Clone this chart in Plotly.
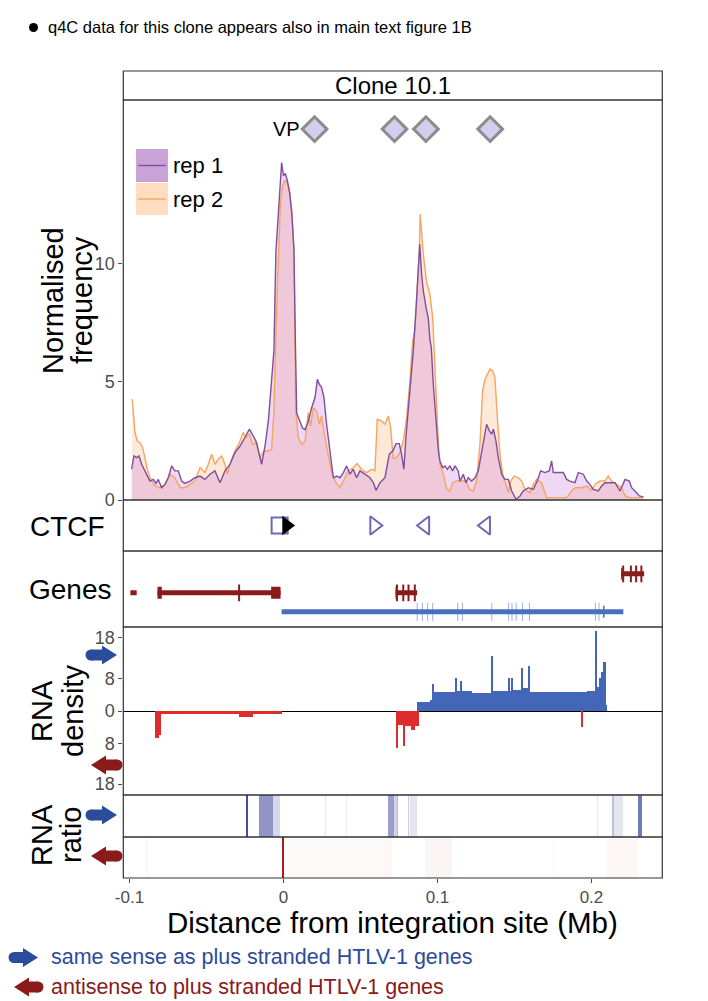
import plotly.graph_objects as go

# page is photographed with the default 8px body margin, so the figure is 8px smaller
OFF = 8
W, H = 708 - OFF, 1001 - OFF

# ---- q4C normalised frequency, two replicates ----
rep1_x = [-0.0986, -0.0971, -0.0953, -0.0938, -0.0921, -0.0906, -0.0889, -0.0867, -0.0845, -0.0828,
          -0.0813, -0.0791, -0.0769, -0.0748, -0.0726, -0.0705, -0.0683, -0.0661, -0.0640, -0.0607,
          -0.0575, -0.0542, -0.0510, -0.0477, -0.0445, -0.0412, -0.0380, -0.0347, -0.0315, -0.0282,
          -0.0250, -0.0222, -0.0196, -0.0174, -0.0142, -0.0120, -0.0098, -0.0077, -0.0062, -0.0049,
          -0.0036, -0.0025, -0.0012, 0.0000, 0.0012, 0.0025, 0.0040, 0.0055, 0.0068, 0.0078,
          0.0086, 0.0107, 0.0124, 0.0140, 0.0161, 0.0183, 0.0205, 0.0220, 0.0233, 0.0248,
          0.0263, 0.0280, 0.0302, 0.0324, 0.0345, 0.0367, 0.0389, 0.0410, 0.0432, 0.0453,
          0.0475, 0.0497, 0.0529, 0.0562, 0.0584, 0.0601, 0.0627, 0.0659, 0.0687, 0.0713,
          0.0731, 0.0752, 0.0767, 0.0782, 0.0795, 0.0811, 0.0826, 0.0843, 0.0860, 0.0876,
          0.0885, 0.0897, 0.0908, 0.0926, 0.0940, 0.0951, 0.0960, 0.0973, 0.0990, 0.1006,
          0.1016, 0.1034, 0.1049, 0.1064, 0.1081, 0.1098, 0.1114, 0.1135, 0.1146, 0.1168,
          0.1185, 0.1200, 0.1222, 0.1244, 0.1265, 0.1287, 0.1308, 0.1319, 0.1337, 0.1352,
          0.1363, 0.1380, 0.1395, 0.1417, 0.1438, 0.1460, 0.1482, 0.1510, 0.1536, 0.1557,
          0.1590, 0.1622, 0.1648, 0.1670, 0.1698, 0.1726, 0.1741, 0.1752, 0.1785, 0.1817,
          0.1839, 0.1860, 0.1893, 0.1914, 0.1947, 0.1969, 0.1990, 0.2012, 0.2044, 0.2066,
          0.2088, 0.2120, 0.2153, 0.2185, 0.2218, 0.2246, 0.2261, 0.2282, 0.2311, 0.2337]
rep1_y = [1.30, 1.86, 1.79, 1.86, 1.51, 1.30, 1.09, 0.80, 0.87, 0.70,
          0.87, 0.52, 0.66, 0.94, 1.44, 1.23, 1.23, 0.80, 0.70, 0.80,
          0.94, 1.01, 0.87, 1.09, 1.23, 0.73, 1.23, 1.51, 2.00, 2.28,
          2.64, 2.99, 2.71, 2.42, 1.51, 2.28, 3.34, 4.89, 6.30, 10.5,
          11.9, 13.0, 14.26, 13.7, 13.8, 13.5, 13.0, 12.0, 10.6, 6.5,
          3.67, 3.32, 3.04, 2.97, 3.32, 3.90, 4.33, 5.10, 4.89, 4.75,
          4.33, 3.20, 2.07, 0.94, 1.01, 0.94, 1.16, 1.44, 1.09, 1.30,
          0.94, 1.23, 1.09, 0.94, 0.73, 0.41, 0.73, 0.94, 1.93, 2.10,
          2.38, 2.38, 1.93, 1.30, 2.64, 3.76, 5.03, 6.30, 7.99, 9.82,
          10.8, 9.54, 8.84, 8.13, 7.70, 6.79, 6.44, 4.89, 3.20, 2.07,
          1.65, 1.37, 1.44, 1.30, 1.44, 1.23, 1.44, 1.23, 0.80, 1.09,
          0.73, 0.94, 0.80, 0.94, 1.23, 2.07, 2.85, 3.20, 2.92, 2.78,
          2.99, 2.49, 1.79, 1.09, 0.87, 0.87, 0.38, 0.03, 0.17, 0.38,
          0.52, 0.45, 0.80, 1.23, 1.16, 1.23, 1.65, 1.16, 1.16, 1.16,
          0.87, 0.80, 0.73, 1.16, 1.09, 0.80, 0.66, 0.45, 0.38, 0.59,
          0.73, 0.73, 0.73, 0.38, 0.87, 0.80, 0.52, 0.38, 0.17, 0.13]

rep2_x = [-0.0982, -0.0964, -0.0949, -0.0932, -0.0914, -0.0899, -0.0884, -0.0867, -0.0834, -0.0802,
          -0.0769, -0.0737, -0.0705, -0.0672, -0.0640, -0.0607, -0.0575, -0.0542, -0.0510, -0.0488,
          -0.0466, -0.0445, -0.0423, -0.0401, -0.0380, -0.0365, -0.0337, -0.0315, -0.0287, -0.0261,
          -0.0244, -0.0222, -0.0200, -0.0179, -0.0153, -0.0127, -0.0098, -0.0077, -0.0062, -0.0045,
          -0.0033, -0.0020, -0.0005, 0.0010, 0.0025, 0.0040, 0.0055, 0.0068, 0.0080, 0.0096,
          0.0118, 0.0140, 0.0161, 0.0176, 0.0194, 0.0215, 0.0233, 0.0248, 0.0269, 0.0291,
          0.0313, 0.0341, 0.0367, 0.0389, 0.0421, 0.0453, 0.0479, 0.0508, 0.0540, 0.0573,
          0.0594, 0.0609, 0.0637, 0.0659, 0.0681, 0.0696, 0.0713, 0.0735, 0.0756, 0.0778,
          0.0800, 0.0821, 0.0839, 0.0854, 0.0869, 0.0882, 0.0888, 0.0908, 0.0930, 0.0951,
          0.0969, 0.0984, 0.0995, 0.1006, 0.1016, 0.1038, 0.1060, 0.1081, 0.1098, 0.1124,
          0.1157, 0.1185, 0.1207, 0.1233, 0.1254, 0.1276, 0.1293, 0.1308, 0.1330, 0.1341,
          0.1358, 0.1373, 0.1389, 0.1406, 0.1427, 0.1445, 0.1460, 0.1475, 0.1497, 0.1525,
          0.1547, 0.1568, 0.1601, 0.1622, 0.1644, 0.1676, 0.1709, 0.1752, 0.1795, 0.1839,
          0.1871, 0.1893, 0.1936, 0.1969, 0.2001, 0.2023, 0.2055, 0.2088, 0.2109, 0.2131,
          0.2163, 0.2196, 0.2218, 0.2250, 0.2293, 0.2337]
rep2_y = [4.26, 2.85, 2.49, 2.42, 2.21, 1.72, 1.30, 0.94, 0.59, 0.52,
          0.66, 1.09, 0.94, 0.52, 0.52, 0.66, 0.80, 1.37, 1.16, 1.51,
          1.93, 1.51, 1.72, 1.86, 1.51, 1.09, 1.72, 2.07, 2.42, 2.85,
          2.64, 2.78, 2.35, 2.42, 1.79, 2.07, 2.07, 2.14, 3.76, 8.0,
          10.5, 12.5, 13.3, 13.5, 13.4, 13.0, 12.2, 10.5, 3.76, 2.64,
          2.35, 2.49, 3.69, 3.13, 3.90, 3.76, 3.20, 3.55, 2.64, 1.86,
          1.16, 0.73, 0.52, 0.80, 1.23, 1.37, 1.54, 1.30, 1.16, 1.30,
          1.23, 3.41, 3.34, 3.20, 3.55, 3.06, 1.75, 1.79, 2.00, 2.49,
          3.48, 5.03, 6.72, 7.19, 8.98, 10.5, 12.08, 10.39, 9.19, 8.70,
          7.71, 5.60, 3.48, 2.35, 1.51, 1.09, 0.45, 0.38, 0.73, 0.80,
          0.80, 0.80, 0.45, 0.38, 0.80, 2.35, 4.61, 5.10, 5.38, 5.53,
          5.46, 5.17, 3.48, 1.93, 0.94, 0.66, 0.31, 0.80, 1.01, 0.94,
          0.80, 0.45, 0.31, 0.66, 0.87, 0.73, 0.10, 0.10, 0.10, 0.10,
          0.38, 0.52, 0.52, 0.59, 0.41, 0.66, 0.80, 0.80, 1.01, 0.80,
          0.66, 0.52, 0.17, 0.10, 0.10, 0.10]

# viewpoints
vp_x = [0.0202, 0.0721, 0.0925, 0.1342]
vp_level = 15.67

# CTCF sites and integration site
ctcf_x = [-0.0025, 0.0590, 0.0920, 0.1315]
ctcf_symbol = ["square-open", "triangle-right-open", "triangle-left-open", "triangle-left-open"]
site_x = [0.0020]

# genes (row: 0 bottom, 1 middle, 2 top)
gene_start = [-0.0994, -0.0818, 0.0728, 0.2193, -0.0012]
gene_end = [-0.0953, -0.0019, 0.0868, 0.2342, 0.2207]
gene_row = [1, 1, 1, 2, 0]
gene_strand = ["-", "-", "-", "-", "+"]
exon_start = [-0.0818, -0.0080, 0.0728, 0.2193, 0.2075]
exon_end = [-0.0790, -0.0019, 0.0736, 0.2201, 0.2085]
exon_row = [1, 1, 1, 2, 0]
exon_strand = ["-", "-", "-", "-", "+"]
tick_minus_x = [-0.0288, 0.0737, 0.0778, 0.0812, 0.0853, 0.2206, 0.2256, 0.2290, 0.2324]
tick_minus_row = [1, 1, 1, 1, 1, 2, 2, 2, 2]
tick_plus_x = [0.0868, 0.0902, 0.0936, 0.0969, 0.1132, 0.1162, 0.1353, 0.1462, 0.1484,
               0.1511, 0.1552, 0.1597, 0.2026, 0.2049]
row_level = [0.20, 0.45, 0.70]

# RNA density (plus strand up, minus strand down)
rna_plus_start = [0.0871, 0.0955, 0.0970, 0.0978, 0.1120, 0.1130, 0.1150, 0.1158, 0.1225, 0.1352,
                  0.1359, 0.1460, 0.1467, 0.1483, 0.1490, 0.1548, 0.1555, 0.1592, 0.1599, 0.1970,
                  0.2030, 0.2037, 0.2050, 0.2065, 0.2080, 0.2094]
rna_plus_end = [0.0955, 0.0970, 0.0978, 0.1120, 0.1130, 0.1150, 0.1158, 0.1225, 0.1352, 0.1359,
                0.1460, 0.1467, 0.1483, 0.1490, 0.1548, 0.1555, 0.1592, 0.1599, 0.1970, 0.2030,
                0.2037, 0.2050, 0.2065, 0.2080, 0.2094, 0.2104]
rna_plus_val = [2.14, 2.7, 6.58, 4.77, 8.23, 5.0, 7.4, 4.9, 4.36, 13.58,
                5.0, 8.23, 5.0, 8.07, 5.2, 10.7, 5.6, 11.2, 4.77, 5.0,
                19.75, 5.9, 8.07, 9.7, 12.0, 1.6]
rna_minus_start = [-0.0829, -0.0809, -0.0794, -0.0287, -0.0199, 0.0733, 0.0746, 0.0780, 0.0788,
                   0.0833, 0.0856, 0.1938]
rna_minus_end = [-0.0809, -0.0794, -0.0287, -0.0199, -0.0009, 0.0746, 0.0780, 0.0788, 0.0833,
                 0.0856, 0.0880, 0.1944]
rna_minus_val = [6.7, 5.9, 0.82, 1.4, 0.8, 9.2, 3.4, 8.6, 3.6, 4.6, 3.6, 3.87]

# RNA ratio strips
ratio_plus_start = [-0.0240, -0.0155, -0.0067, 0.0272, 0.0407, 0.0680, 0.0718, 0.0737, 0.0775,
                    0.0810, 0.0822, 0.2040, 0.2137, 0.2150, 0.2307]
ratio_plus_end = [-0.0229, -0.0067, -0.0023, 0.0280, 0.0415, 0.0718, 0.0737, 0.0745, 0.0781,
                  0.0815, 0.0871, 0.2047, 0.2150, 0.2205, 0.2328]
ratio_plus_alpha = [1.0, 0.6, 0.22, 0.12, 0.1, 0.55, 0.25, 0.4, 0.35, 0.3, 0.15, 0.12, 0.35, 0.15, 0.75]
ratio_minus_start = [-0.0890, -0.0010, 0.0005, 0.0646, 0.0921, 0.1760, 0.2105]
ratio_minus_end = [-0.0880, 0.0003, 0.0646, 0.0705, 0.1097, 0.1768, 0.2304]
ratio_minus_alpha = [0.03, 1.0, 0.025, 0.04, 0.045, 0.03, 0.04]

FONT = "Liberation Sans, Arial, sans-serif"
GREY = "#4d4d4d"
RED_GENE = "#8b1a1a"
BLUE_GENE = "#4a6fbf"

# panel edges in page pixels
PX_L, PX_R = 123.3, 662.3
Y_STRIP, Y_MAIN, Y_CTCF, Y_GENES, Y_DENS, Y_RP, Y_RM, Y_BOT = 71, 100, 500, 551, 627, 795, 837, 878


def pxx(p):
    return (p - OFF) / W


def pxy(p):
    return 1 - (p - OFF) / H


fig = go.Figure()

# q4C fills and lines
fig.add_trace(go.Scatter(x=rep2_x, y=rep2_y, mode="lines", fill="tozeroy",
                         line=dict(width=0), fillcolor="rgba(250,175,110,0.27)"))
fig.add_trace(go.Scatter(x=rep1_x, y=rep1_y, mode="lines", fill="tozeroy",
                         line=dict(width=0), fillcolor="rgba(205,125,220,0.31)"))
fig.add_trace(go.Scatter(x=rep2_x, y=rep2_y, mode="lines", line=dict(color="#f5a55f", width=1.4)))
fig.add_trace(go.Scatter(x=rep1_x, y=rep1_y, mode="lines", line=dict(color="#7e4f9f", width=1.4)))
fig.add_trace(go.Scatter(x=vp_x, y=[vp_level] * len(vp_x), mode="markers",
                         marker=dict(symbol="diamond", size=19, color="#d0d0ee",
                                     line=dict(color="#8c8c8c", width=3))))

# CTCF
fig.add_trace(go.Scatter(x=ctcf_x, y=[0.5] * len(ctcf_x), yaxis="y2", mode="markers",
                         marker=dict(symbol=ctcf_symbol, size=16, color="#6b6bb5",
                                     line=dict(color="#6b6bb5", width=2))))
fig.add_trace(go.Scatter(x=site_x, y=[0.5], yaxis="y2", mode="markers",
                         marker=dict(symbol="triangle-right", size=17, color="black")))

# genes
for strand, col in [("-", RED_GENE), ("+", BLUE_GENE)]:
    gx, gy, ex, ey = [], [], [], []
    for s, e, r, st in zip(gene_start, gene_end, gene_row, gene_strand):
        if st == strand:
            gx += [s, e, None]
            gy += [row_level[r], row_level[r], None]
    for s, e, r, st in zip(exon_start, exon_end, exon_row, exon_strand):
        if st == strand:
            ex += [s, e, None]
            ey += [row_level[r], row_level[r], None]
    fig.add_trace(go.Scatter(x=gx, y=gy, yaxis="y3", mode="lines",
                             line=dict(color=col, width=5)))
    fig.add_trace(go.Scatter(x=ex, y=ey, yaxis="y3", mode="lines",
                             line=dict(color=col, width=12)))
fig.add_trace(go.Scatter(x=tick_minus_x, y=[row_level[r] for r in tick_minus_row], yaxis="y3",
                         mode="markers",
                         marker=dict(symbol="line-ns-open", size=12, color=RED_GENE,
                                     line=dict(color=RED_GENE, width=2))))
fig.add_trace(go.Scatter(x=tick_plus_x, y=[row_level[0]] * len(tick_plus_x), yaxis="y3",
                         mode="markers",
                         marker=dict(symbol="line-ns-open", size=13, color="rgba(74,111,191,0.55)",
                                     line=dict(color="rgba(74,111,191,0.55)", width=1))))

# RNA density
fig.add_trace(go.Bar(x=rna_plus_start, y=rna_plus_val, yaxis="y4", offset=0,
                     width=[e - s for s, e in zip(rna_plus_start, rna_plus_end)],
                     marker=dict(color="#4466b8", line=dict(width=0))))
fig.add_trace(go.Bar(x=rna_minus_start, y=[-v for v in rna_minus_val], yaxis="y4", offset=0,
                     width=[e - s for s, e in zip(rna_minus_start, rna_minus_end)],
                     marker=dict(color="#de2b2b", line=dict(width=0))))

# RNA ratio
fig.add_trace(go.Bar(x=ratio_plus_start, y=[1] * len(ratio_plus_start), yaxis="y5", offset=0, base=0,
                     width=[e - s for s, e in zip(ratio_plus_start, ratio_plus_end)],
                     marker=dict(color=["rgba(70,78,160,%.2f)" % a for a in ratio_plus_alpha],
                                 line=dict(width=0))))
fig.add_trace(go.Bar(x=ratio_minus_start, y=[1] * len(ratio_minus_start), yaxis="y6", offset=0, base=0,
                     width=[e - s for s, e in zip(ratio_minus_start, ratio_minus_end)],
                     marker=dict(color=["rgba(180,25,25,%.3f)" % a for a in ratio_minus_alpha],
                                 line=dict(width=0))))

fig.update_traces(showlegend=False, hoverinfo="skip")

blank = dict(showticklabels=False, ticks="", showgrid=False, zeroline=False, range=[0, 1],
             anchor="x", fixedrange=True, automargin=False)
tickstyle = dict(ticks="outside", ticklen=4, tickcolor=GREY, tickwidth=1,
                 tickfont=dict(size=18, color=GREY, family=FONT), showgrid=False, anchor="x",
                 automargin=False)

shapes = []
for top, bot in [(Y_STRIP, Y_MAIN), (Y_MAIN, Y_CTCF), (Y_CTCF, Y_GENES), (Y_GENES, Y_DENS),
                 (Y_DENS, Y_RP), (Y_RP, Y_RM), (Y_RM, Y_BOT)]:
    shapes.append(dict(type="rect", xref="paper", yref="paper", layer="above",
                       x0=pxx(PX_L), x1=pxx(PX_R), y0=pxy(bot), y1=pxy(top),
                       line=dict(color="#333333", width=1.2)))

# legend swatches
shapes.append(dict(type="rect", xref="paper", yref="paper", x0=pxx(136), x1=pxx(168),
                   y0=pxy(182), y1=pxy(149), fillcolor="#c9a3d8", line=dict(width=0)))
shapes.append(dict(type="rect", xref="paper", yref="paper", x0=pxx(136), x1=pxx(168),
                   y0=pxy(215), y1=pxy(183), fillcolor="#fddcbf", line=dict(width=0)))
shapes.append(dict(type="line", xref="paper", yref="paper", x0=pxx(138), x1=pxx(166),
                   y0=pxy(165.5), y1=pxy(165.5), line=dict(color="#7e4f9f", width=1.4)))
shapes.append(dict(type="line", xref="paper", yref="paper", x0=pxx(138), x1=pxx(166),
                   y0=pxy(199), y1=pxy(199), line=dict(color="#f5a55f", width=1.4)))

# bullet of the top note
shapes.append(dict(type="circle", xref="paper", yref="paper", x0=pxx(29), x1=pxx(38),
                   y0=pxy(32), y1=pxy(23), fillcolor="black", line=dict(width=0)))


def arrow(x_tail, x_tip, yc, color, shaft=11, head_w=19, head_len=15):
    d = 1 if x_tip > x_tail else -1
    hb = x_tip - d * head_len
    pts = [(x_tail, yc - shaft / 2), (hb, yc - shaft / 2), (hb, yc - head_w / 2), (x_tip, yc),
           (hb, yc + head_w / 2), (hb, yc + shaft / 2), (x_tail, yc + shaft / 2)]
    path = "M " + " L ".join("%.5f,%.5f" % (pxx(a), pxy(b)) for a, b in pts) + " Z"
    return [dict(type="path", xref="paper", yref="paper", path=path, fillcolor=color,
                 line=dict(width=0)),
            dict(type="circle", xref="paper", yref="paper", x0=pxx(x_tail - shaft / 2),
                 x1=pxx(x_tail + shaft / 2), y0=pxy(yc + shaft / 2), y1=pxy(yc - shaft / 2),
                 fillcolor=color, line=dict(width=0))]


ARROW_BLUE = "#2a4c9a"
ARROW_RED = "#8b1a1a"
shapes += arrow(91, 117, 655, ARROW_BLUE)
shapes += arrow(117, 91, 765, ARROW_RED)
shapes += arrow(91, 117, 815, ARROW_BLUE)
shapes += arrow(117, 91, 856, ARROW_RED)
shapes += arrow(14, 38, 957.5, ARROW_BLUE)
shapes += arrow(38, 14, 987, ARROW_RED)

ann = []


def label(text, x, y, size, color="black", xanchor="center", angle=0):
    ann.append(dict(text=text, xref="paper", yref="paper", x=pxx(x), y=pxy(y), showarrow=False,
                    xanchor=xanchor, yanchor="middle", textangle=angle,
                    font=dict(size=size, color=color, family=FONT)))


label("q4C data for this clone appears also in main text figure 1B", 46, 27, 16.5, xanchor="left")
label("Clone 10.1", (PX_L + PX_R) / 2, 85.5, 24)
label("rep 1", 171, 166, 22, xanchor="left")
label("rep 2", 171, 200, 22, xanchor="left")
label("Normalised", 53, 300, 29, angle=-90)
label("frequency", 82, 300, 29, angle=-90)
label("CTCF", 28, 526, 28, xanchor="left")
label("Genes", 27, 589, 28, xanchor="left")
label("RNA", 42, 711, 29, angle=-90)
label("density", 73, 711, 29, angle=-90)
label("RNA", 42, 835, 29, angle=-90)
label("ratio", 71, 835, 29, angle=-90)
label("Distance from integration site (Mb)", (PX_L + PX_R) / 2, 922, 29.5)
label("same sense as plus stranded HTLV-1 genes", 49, 957, 21.5, color="#2d4b9b", xanchor="left")
label("antisense to plus stranded HTLV-1 genes", 49, 987, 21.5, color="#8b1a1a", xanchor="left")
ann.append(dict(text="VP", x=vp_x[0], y=vp_level, xref="x", yref="y", showarrow=False,
                xanchor="right", yanchor="middle", xshift=-13,
                font=dict(size=20, color="black", family=FONT)))

fig.update_layout(
    width=W, height=H, autosize=False,
    margin=dict(l=0, r=0, t=0, b=0, pad=0, autoexpand=False),
    paper_bgcolor="white", plot_bgcolor="white",
    barmode="overlay", bargap=0,
    font=dict(family=FONT),
    xaxis=dict(domain=[pxx(PX_L), pxx(PX_R)], range=[-0.1040, 0.2460], anchor="y6",
               tickvals=[-0.1, 0, 0.1, 0.2], ticktext=["-0.1", "0", "0.1", "0.2"],
               ticks="outside", ticklen=4, tickcolor=GREY, automargin=False,
               tickfont=dict(size=17, color=GREY, family=FONT),
               showgrid=False, zeroline=False, showline=False),
    yaxis=dict(domain=[pxy(Y_CTCF), pxy(Y_MAIN)], range=[0, 16.9], tickvals=[0, 5, 10],
               zeroline=False, **tickstyle),
    yaxis2=dict(domain=[pxy(Y_GENES), pxy(Y_CTCF)], **blank),
    yaxis3=dict(domain=[pxy(Y_DENS), pxy(Y_GENES)], **blank),
    yaxis4=dict(domain=[pxy(Y_RP), pxy(Y_DENS)], range=[-20.7, 20.7],
                tickvals=[-18, -8, 0, 8, 18], ticktext=["18", "8", "0", "8", "18"],
                zeroline=True, zerolinecolor="black", zerolinewidth=1.3, **tickstyle),
    yaxis5=dict(domain=[pxy(Y_RM), pxy(Y_RP)], **blank),
    yaxis6=dict(domain=[pxy(Y_BOT), pxy(Y_RM)], **blank),
    shapes=shapes,
    annotations=ann,
)

fig.write_html("out.html")
